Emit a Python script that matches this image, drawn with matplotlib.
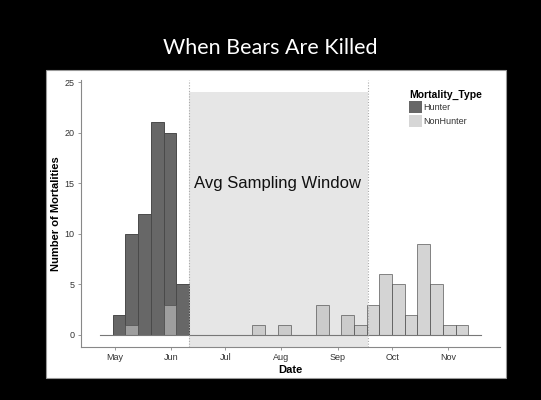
import matplotlib.pyplot as plt
import numpy as np

# weekly bins, day-of-year of each bin's left edge
bin_start = 113
bin_width = 7
hunter = [0, 2, 10, 12, 21, 20, 5, 0, 0, 0, 0, 0, 0, 0, 0,
          0, 0, 0, 0, 0, 0, 0, 0, 0, 0, 0, 0, 0, 0, 0]
nonhunter = [0, 0, 1, 0, 0, 3, 0, 0, 0, 0, 0, 0, 1, 0, 1,
             0, 0, 3, 0, 2, 1, 3, 6, 5, 2, 9, 5, 1, 1, 0]

month_days = [121, 152, 182, 213, 244, 274, 305]
month_labels = ["May", "Jun", "Jul", "Aug", "Sep", "Oct", "Nov"]

window_start = 162
window_end = 261
window_top = 24

edges = bin_start + bin_width * np.arange(len(hunter))

fig = plt.figure(figsize=(5.41, 4.0), dpi=100, facecolor="black")
# white panel
fig.patches.append(plt.Rectangle((46 / 541, 1 - 378 / 400), (506 - 46) / 541, (378 - 70) / 400,
                                 transform=fig.transFigure, facecolor="white", edgecolor="#999999",
                                 linewidth=0.8, zorder=-1))
fig.text(0.5, 1 - 48 / 400, "When Bears Are Killed", color="white", ha="center", va="center",
         fontsize=15.5, family="Lato")

ax = fig.add_axes([81 / 541, 1 - 347 / 400, (500 - 81) / 541, (347 - 80) / 400])
ax.set_facecolor("white")

ax.axvspan(window_start, window_end, ymin=0, ymax=(window_top + 1.2) / 26.4,
           facecolor="#e6e6e6", edgecolor="none", zorder=0)
ax.axvline(window_start, color="#aaaaaa", linestyle=(0, (1, 1.5)), linewidth=0.8, zorder=3)
ax.axvline(window_end, color="#aaaaaa", linestyle=(0, (1, 1.5)), linewidth=0.8, zorder=3)

ax.bar(edges, hunter, width=bin_width, align="edge", color="#676767",
       edgecolor="#4a4a4a", linewidth=0.7, zorder=1)
ax.bar(edges, nonhunter, width=bin_width, align="edge", color="#bdbdbd", alpha=0.65,
       edgecolor="#4a4a4a", linewidth=0.7, zorder=2)
ax.plot([edges[0], edges[-1] + bin_width], [0, 0], color="#777777", linewidth=0.8, zorder=2)

ax.text(211, 15, "Avg Sampling Window", fontsize=12, family="Liberation Sans",
        ha="center", va="center", color="#111111")

ax.set_xlim(102.5, 333.5)
ax.set_ylim(-1.2, 25.2)
ax.set_xticks(month_days)
ax.set_xticklabels(month_labels)
ax.set_yticks([0, 5, 10, 15, 20, 25])

for s in ["top", "right"]:
    ax.spines[s].set_visible(False)
for s in ["left", "bottom"]:
    ax.spines[s].set_color("#888888")
    ax.spines[s].set_linewidth(0.8)
ax.tick_params(length=2.5, width=0.6, color="#888888", labelsize=6.5, labelcolor="#333333", pad=2)
for lab in ax.get_xticklabels() + ax.get_yticklabels():
    lab.set_family("Liberation Sans")

ax.set_xlabel("Date", fontsize=8, fontweight="bold", family="Liberation Sans", labelpad=2)
ax.set_ylabel("Number of Mortalities", fontsize=8, fontweight="bold", family="Liberation Sans",
              labelpad=3)

# legend
fig.text(409 / 541, 1 - 95 / 400, "Mortality_Type", fontsize=7.5, fontweight="bold",
         family="Liberation Sans", va="center", ha="left")
leg_items = [("Hunter", "#676767", 107), ("NonHunter", "#d6d6d6", 121)]
for name, col, yc in leg_items:
    fig.patches.append(plt.Rectangle((409 / 541, 1 - (yc + 6) / 400), 13 / 541, 12 / 400,
                                     transform=fig.transFigure, facecolor=col, edgecolor="none"))
    fig.text(423 / 541, 1 - yc / 400, name, fontsize=6.5, family="Liberation Sans",
             va="center", ha="left", color="#333333")

fig.savefig("out.png", dpi=100, facecolor="black")
